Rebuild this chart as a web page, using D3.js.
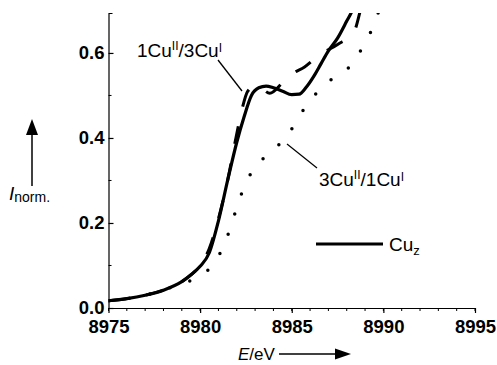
<!DOCTYPE html>
<html>
<head>
<meta charset="utf-8">
<script src="https://cdn.jsdelivr.net/npm/d3@7"></script>
<style>
  body { margin: 0; background: #fff; }
  svg { display: block; font-family: "Liberation Sans", Arial, sans-serif; }
</style>
</head>
<body>
<svg id="chart" width="497" height="365"></svg>
<script>
"use strict";

// Cu_z (solid)
var cuzE = [8975, 8976, 8977, 8978, 8979, 8979.5, 8980, 8980.5, 8981, 8981.5, 8982, 8982.4, 8982.8,
            8983.2, 8983.6, 8984, 8984.5, 8985, 8985.4, 8985.8, 8986.2, 8986.6, 8987, 8987.5, 8988, 8988.3, 8988.6];
var cuzI = [0.017, 0.022, 0.03, 0.042, 0.062, 0.078, 0.098, 0.13, 0.205, 0.3, 0.39, 0.45, 0.5,
            0.518, 0.522, 0.518, 0.51, 0.502, 0.503, 0.52, 0.545, 0.575, 0.605, 0.635, 0.675, 0.7, 0.74];

// 1CuII/3CuI (dashed)
var mixAE = [8975, 8976, 8977, 8978, 8979, 8979.5, 8980, 8980.5, 8981, 8981.5, 8982, 8982.3, 8982.6,
             8983, 8983.4, 8983.8, 8984.5, 8985, 8985.7, 8986.5, 8987.5, 8988.4, 8988.8, 8989.1];
var mixAI = [0.017, 0.022, 0.03, 0.042, 0.062, 0.078, 0.1, 0.14, 0.21, 0.3, 0.41, 0.47, 0.51,
             0.522, 0.515, 0.505, 0.53, 0.55, 0.567, 0.595, 0.62, 0.65, 0.71, 0.76];

// 3CuII/1CuI (dotted)
var mixBE = [8975, 8976, 8977, 8978, 8979, 8979.4, 8980, 8980.43, 8981.2, 8981.63, 8981.96, 8982.34, 8982.89,
             8983.87, 8984.79, 8985.45, 8986.32, 8987.25, 8988.33, 8988.99, 8989.5, 8989.9];
var mixBI = [0.017, 0.022, 0.03, 0.042, 0.058, 0.063, 0.076, 0.089, 0.139, 0.186, 0.231, 0.278, 0.325,
             0.367, 0.407, 0.454, 0.504, 0.541, 0.576, 0.624, 0.668, 0.72];

var xTicks = [8975, 8980, 8985, 8990, 8995];
var xMinor = d3.range(8975, 8996, 1);
var yTicks = [0, 0.2, 0.4, 0.6];
var yMinor = [0.1, 0.3, 0.5];

var svg = d3.select("#chart");

var x = d3.scaleLinear().domain([8975, 8995]).range([108.5, 475]);
var y = d3.scaleLinear().domain([0, 0.694]).range([308, 13]);

svg.append("defs").append("clipPath").attr("id", "plot")
    .append("rect")
    .attr("x", x(8975)).attr("y", y(0.694))
    .attr("width", x(8995) - x(8975)).attr("height", y(0) - y(0.694));

// axes
var xAxis = svg.append("g")
    .attr("transform", "translate(0," + y(0) + ")")
    .call(d3.axisBottom(x).tickValues(xTicks).tickFormat(d3.format("d")).tickSize(5).tickSizeOuter(0));
xAxis.append("g").selectAll("line").data(xMinor).join("line")
    .attr("x1", x).attr("x2", x).attr("y1", 0).attr("y2", 3)
    .attr("stroke", "#000");

var yAxis = svg.append("g")
    .attr("transform", "translate(" + x(8975) + ",0)")
    .call(d3.axisLeft(y).tickValues(yTicks).tickFormat(d3.format(".1f")).tickSizeInner(-5).tickSizeOuter(-4).tickPadding(4));
yAxis.append("g").selectAll("line").data(yMinor).join("line")
    .attr("y1", y).attr("y2", y).attr("x1", 0).attr("x2", 3)
    .attr("stroke", "#000");

svg.selectAll(".domain, .tick line").attr("stroke", "#000").attr("stroke-width", 1.2);
svg.selectAll(".tick text")
    .attr("fill", "#000")
    .style("font-size", "18.5px")
    .style("font-weight", "bold");
xAxis.selectAll(".tick text").attr("dy", "0.9em");

// curves
var line = d3.line().x(function (d) { return x(d[0]); }).y(function (d) { return y(d[1]); })
    .curve(d3.curveMonotoneX);
var plot = svg.append("g").attr("clip-path", "url(#plot)");

function pairs(es, is) { return es.map(function (e, i) { return [e, is[i]]; }); }

plot.append("path").datum(pairs(mixBE, mixBI))
    .attr("d", line).attr("fill", "none").attr("stroke", "#000")
    .attr("stroke-width", 3.5).attr("stroke-linecap", "round").attr("stroke-dasharray", "0,21");

plot.append("path").datum(pairs(mixAE, mixAI))
    .attr("d", line).attr("fill", "none").attr("stroke", "#000")
    .attr("stroke-width", 3).attr("stroke-dasharray", "18,20");

plot.append("path").datum(pairs(cuzE, cuzI))
    .attr("d", line).attr("fill", "none").attr("stroke", "#000")
    .attr("stroke-width", 3.2);

// annotations
function supLabel(g, px, py, parts) {
    var t = g.append("text").attr("x", px).attr("y", py).attr("fill", "#000");
    parts.forEach(function (p) {
        t.append("tspan").text(p[0])
            .attr("dy", p[1])
            .style("font-size", p[2]);
    });
    return t;
}

supLabel(svg, 137, 57, [["1Cu", 0, "19px"], ["II", "-0.6em", "12px"], ["/3Cu", "0.38em", "19px"], ["I", "-0.38em", "12px"]]);
svg.append("line").attr("x1", 218).attr("y1", 60).attr("x2", 242).attr("y2", 91)
    .attr("stroke", "#000").attr("stroke-width", 1.3);

supLabel(svg, 319, 186, [["3Cu", 0, "19px"], ["II", "-0.6em", "12px"], ["/1Cu", "0.38em", "19px"], ["I", "-0.38em", "12px"]]);
svg.append("line").attr("x1", 287).attr("y1", 144).attr("x2", 317).attr("y2", 168)
    .attr("stroke", "#000").attr("stroke-width", 1.3);

// legend
svg.append("line").attr("x1", 316).attr("x2", 383).attr("y1", 244).attr("y2", 244)
    .attr("stroke", "#000").attr("stroke-width", 3);
var leg = svg.append("text").attr("x", 389).attr("y", 251).attr("fill", "#000").style("font-size", "19px");
leg.append("tspan").text("Cu");
leg.append("tspan").text("z").attr("dy", "0.3em").style("font-size", "13px");

// y label
svg.append("line").attr("x1", 32).attr("x2", 32).attr("y1", 186).attr("y2", 130)
    .attr("stroke", "#000").attr("stroke-width", 1.5);
svg.append("path").attr("d", "M26,135 L32,119 L38,135 Z").attr("fill", "#000");
var yl = svg.append("text").attr("x", 9).attr("y", 200).attr("fill", "#000").style("font-size", "19px");
yl.append("tspan").text("I").style("font-style", "italic");
yl.append("tspan").text("norm.").attr("dy", "0.15em").style("font-size", "14px");

// x label
var xl = svg.append("text").attr("x", 238).attr("y", 360).attr("fill", "#000").style("font-size", "17px");
xl.append("tspan").text("E").style("font-style", "italic");
xl.append("tspan").text("/eV");
svg.append("line").attr("x1", 279).attr("x2", 338).attr("y1", 354).attr("y2", 354)
    .attr("stroke", "#000").attr("stroke-width", 1.5);
svg.append("path").attr("d", "M335,348.5 L351,354 L335,359.5 Z").attr("fill", "#000");
</script>
</body>
</html>
